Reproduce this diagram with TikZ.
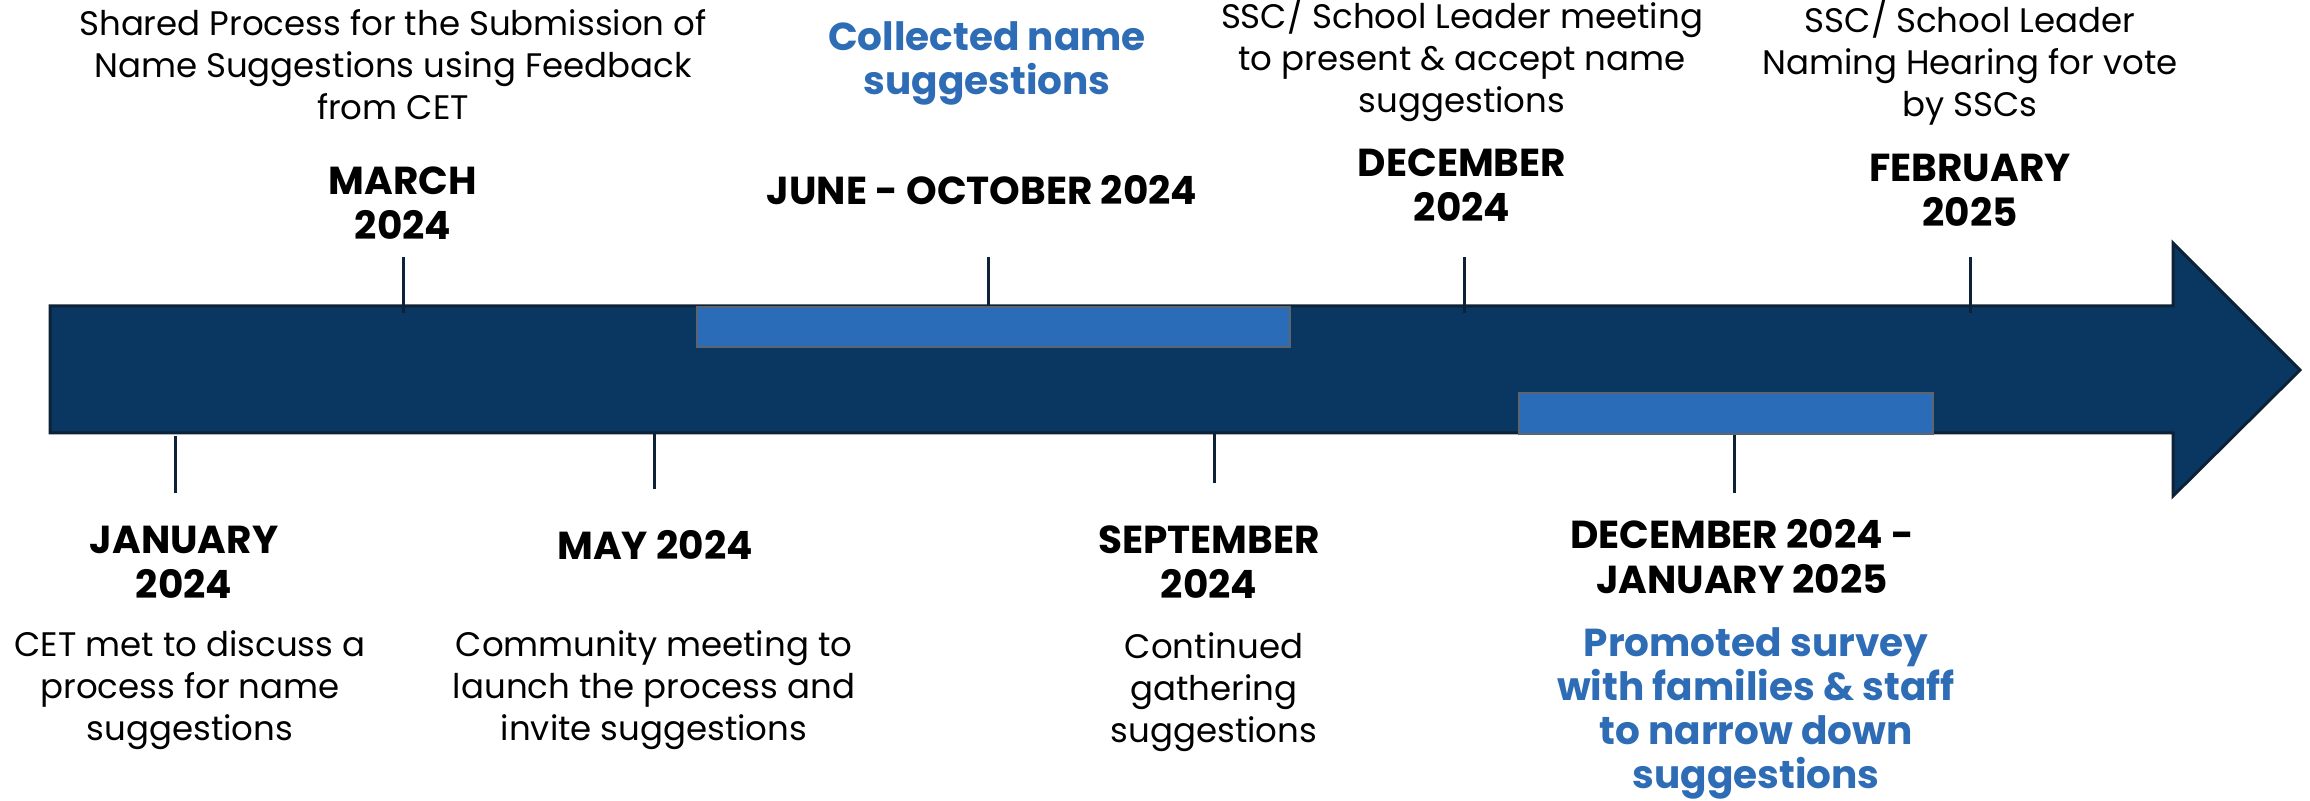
\documentclass[tikz,border=0pt]{standalone}
\usepackage{fontspec}
\setmainfont{Poppins}
\definecolor{navy}{HTML}{0A3761}
\definecolor{edgec}{HTML}{0D2236}
\definecolor{boxblue}{HTML}{2B6CB8}
\definecolor{txtblue}{HTML}{2E6DB5}
\definecolor{boxedge}{HTML}{5A6570}
\tikzset{
  datelbl/.style={font=\fontsize{19.5}{22.5}\selectfont\bfseries, align=center, anchor=base, inner sep=0pt},
  desclbl/.style={font=\fontsize{17}{21}\selectfont, align=center, anchor=base, inner sep=0pt},
  hllbl/.style={font=\fontsize{19.5}{22}\selectfont\bfseries, text=txtblue, align=center, anchor=base, inner sep=0pt},
  tick/.style={draw=edgec, line width=1.5pt},
  period/.style={draw=boxedge, fill=boxblue, line width=0.8pt, inner sep=0pt, minimum height=20pt}
}
\begin{document}
\begin{tikzpicture}[x=0.5pt,y=-0.5pt]
\useasboundingbox (0,0) rectangle (2310,801);
\fill[white] (0,0) rectangle (2310,801);
% main arrow
\draw[fill=navy, draw=edgec, line width=1.5pt, line join=miter]
  (50,306) -- (2173,306) -- (2173,243) -- (2300,370) -- (2173,496) -- (2173,433) -- (50,433) -- cycle;
% period boxes
\node[period, minimum width=296.5pt] (junebox) at (993.5,327) {};
\node[period, minimum width=207pt, minimum height=20.5pt] (decbox) at (1726,413.5) {};
% tick coordinates
\coordinate (marA) at (403,257); \coordinate (marB) at (403,313);
\coordinate (junA) at (988,257);
\coordinate (decA) at (1464,257); \coordinate (decB) at (1464,313);
\coordinate (febA) at (1970,257); \coordinate (febB) at (1970,313);
\coordinate (janA) at (175,436); \coordinate (janB) at (175,493);
\coordinate (mayA) at (654,433); \coordinate (mayB) at (654,489);
\coordinate (sepA) at (1214,433); \coordinate (sepB) at (1214,483);
\coordinate (djB) at (1734,493);
\draw[tick] (marA) -- (marB);
\draw[tick] (junA) -- (junA |- junebox.north);
\draw[tick] (decA) -- (decB);
\draw[tick] (febA) -- (febB);
\draw[tick] (janA) -- (janB);
\draw[tick] (mayA) -- (mayB);
\draw[tick] (sepA) -- (sepB);
\draw[tick] (djB |- decbox.south) -- (djB);
% top labels
\node[desclbl] (shared) at (393,120) {Shared Process for the Submission of\\Name Suggestions using Feedback\\from CET};
\node[datelbl] (march) at (403,240) {MARCH\\2024};
\node[hllbl] (collected) at (987,95) {Collected name\\suggestions};
\node[datelbl] (june) at (982,205) {JUNE - OCTOBER 2024};
\node[desclbl] (sscmeet) at (1462,113) {SSC/ School Leader meeting\\to present \& accept name\\suggestions};
\node[datelbl] (december) at (1462,222) {DECEMBER\\2024};
\node[desclbl] (sscvote) at (1970,117) {SSC/ School Leader\\Naming Hearing for vote\\by SSCs};
\node[datelbl] (february) at (1970,227) {FEBRUARY\\2025};
% bottom labels
\node[datelbl] (january) at (184,598) {JANUARY\\2024};
\node[desclbl] (cet) at (190,740) {CET met to discuss a\\process for name\\suggestions};
\node[datelbl] (may) at (655,559) {MAY 2024};
\node[desclbl] (community) at (654,740) {Community meeting to\\launch the process and\\invite suggestions};
\node[datelbl] (september) at (1209,598) {SEPTEMBER\\2024};
\node[desclbl] (continued) at (1214,742) {Continued\\gathering\\suggestions};
\node[datelbl] (decjan) at (1742,593) {DECEMBER 2024 -\\JANUARY 2025};
\node[hllbl] (promoted) at (1756,788) {Promoted survey\\with families \& staff\\to narrow down\\suggestions};
\end{tikzpicture}
\end{document}
